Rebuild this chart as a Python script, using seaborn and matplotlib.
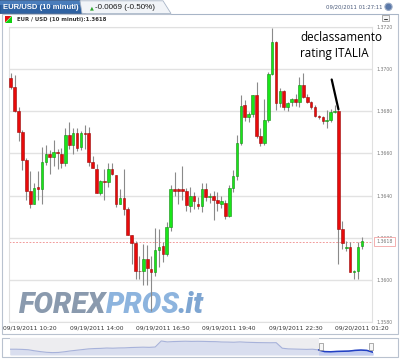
import numpy as np
import pandas as pd
import matplotlib
matplotlib.use("Agg")
import matplotlib.pyplot as plt
import matplotlib.transforms as mtransforms
from matplotlib.patches import Rectangle, Polygon, Circle
import seaborn as sns

# ---------------- data ----------------
opens = [1.36957, 1.36917, 1.36799, 1.36700, 1.36571, 1.36421, 1.36362, 1.36439, 1.36432, 1.36558,
         1.36599, 1.36581, 1.36607, 1.36599, 1.36555, 1.36689, 1.36641, 1.36697, 1.36629, 1.36697,
         1.36697, 1.36558, 1.36528, 1.36413, 1.36471, 1.36463, 1.36527, 1.36500, 1.36362, 1.36389,
         1.36334, 1.36211, 1.36173, 1.36042, 1.36042, 1.36098, 1.36050, 1.36035, 1.36142, 1.36160,
         1.36121, 1.36250, 1.36429, 1.36429, 1.36429, 1.36421, 1.36350, 1.36400, 1.36362, 1.36350,
         1.36429, 1.36392, 1.36400, 1.36378, 1.36362, 1.36367, 1.36302, 1.36437, 1.36492, 1.36650,
         1.36831, 1.36771, 1.36787, 1.36878, 1.36681, 1.36650, 1.36760, 1.36976, 1.37129, 1.36840,
         1.36894, 1.36820, 1.36842, 1.36858, 1.36842, 1.36925, 1.36870, 1.36842, 1.36820, 1.36779,
         1.36771, 1.36752, 1.36760, 1.36796, 1.36799, 1.36239, 1.36150, 1.36158, 1.36035, 1.36042,
         1.36160]
closes = [1.36917, 1.36799, 1.36700, 1.36571, 1.36421, 1.36362, 1.36438, 1.36432, 1.36558, 1.36599,
          1.36581, 1.36607, 1.36602, 1.36555, 1.36689, 1.36641, 1.36697, 1.36626, 1.36697, 1.36693,
          1.36558, 1.36531, 1.36413, 1.36468, 1.36463, 1.36527, 1.36503, 1.36362, 1.36389, 1.36334,
          1.36211, 1.36173, 1.36042, 1.36040, 1.36098, 1.36055, 1.36035, 1.36142, 1.36158, 1.36121,
          1.36250, 1.36429, 1.36421, 1.36421, 1.36421, 1.36353, 1.36400, 1.36373, 1.36350, 1.36429,
          1.36392, 1.36400, 1.36381, 1.36366, 1.36373, 1.36302, 1.36438, 1.36492, 1.36650, 1.36826,
          1.36771, 1.36787, 1.36878, 1.36681, 1.36650, 1.36760, 1.36976, 1.37129, 1.36840, 1.36897,
          1.36820, 1.36839, 1.36858, 1.36842, 1.36925, 1.36870, 1.36842, 1.36820, 1.36779, 1.36771,
          1.36752, 1.36760, 1.36796, 1.36802, 1.36243, 1.36177, 1.36158, 1.36035, 1.36042, 1.36158,
          1.36184]
highs = [1.36983, 1.36973, 1.36818, 1.36712, 1.36580, 1.36518, 1.36462, 1.36515, 1.36632, 1.36641,
         1.36618, 1.36662, 1.36623, 1.36627, 1.36722, 1.36750, 1.36722, 1.36722, 1.36708, 1.36736,
         1.36727, 1.36589, 1.36552, 1.36476, 1.36528, 1.36556, 1.36556, 1.36500, 1.36433, 1.36528,
         1.36348, 1.36211, 1.36184, 1.36113, 1.36169, 1.36164, 1.36113, 1.36244, 1.36239, 1.36178,
         1.36273, 1.36448, 1.36514, 1.36438, 1.36542, 1.36438, 1.36443, 1.36419, 1.36391, 1.36462,
         1.36462, 1.36414, 1.36421, 1.36419, 1.36400, 1.36381, 1.36452, 1.36523, 1.36689, 1.36878,
         1.36854, 1.36798, 1.36878, 1.36938, 1.36722, 1.36859, 1.36987, 1.37197, 1.37133, 1.36911,
         1.36902, 1.36845, 1.36864, 1.36883, 1.36962, 1.36981, 1.36883, 1.36850, 1.36831, 1.36783,
         1.36779, 1.36807, 1.36812, 1.36831, 1.36807, 1.36279, 1.36183, 1.36178, 1.36045, 1.36178,
         1.36202]
lows = [1.36905, 1.36798, 1.36660, 1.36523, 1.36381, 1.36343, 1.36358, 1.36381, 1.36362, 1.36547,
        1.36504, 1.36542, 1.36528, 1.36533, 1.36542, 1.36623, 1.36599, 1.36613, 1.36618, 1.36623,
        1.36542, 1.36531, 1.36413, 1.36405, 1.36381, 1.36443, 1.36500, 1.36348, 1.36358, 1.36310,
        1.36211, 1.36074, 1.36003, 1.36003, 1.35975, 1.35975, 1.35852, 1.36017, 1.36060, 1.36083,
        1.36112, 1.36230, 1.36396, 1.36358, 1.36381, 1.36325, 1.36320, 1.36334, 1.36334, 1.36320,
        1.36372, 1.36367, 1.36282, 1.36325, 1.36343, 1.36287, 1.36296, 1.36419, 1.36476, 1.36641,
        1.36752, 1.36750, 1.36774, 1.36673, 1.36633, 1.36641, 1.36750, 1.36973, 1.36804, 1.36821,
        1.36807, 1.36802, 1.36826, 1.36826, 1.36820, 1.36862, 1.36840, 1.36812, 1.36774, 1.36764,
        1.36741, 1.36720, 1.36750, 1.36791, 1.36074, 1.36145, 1.36135, 1.36035, 1.36003, 1.36003,
        1.36145]

tick_idx = [5, 22, 39, 56, 73, 90]
tick_labels = ["09/19/2011 10:20", "09/19/2011 14:00", "09/19/2011 16:50",
               "09/19/2011 19:40", "09/19/2011 22:30", "09/20/2011 01:20"]
y_ticks = [1.3580, 1.3600, 1.3620, 1.3640, 1.3660, 1.3680, 1.3700, 1.3720]
last_price = 1.3618
annot_idx = 84
annot_text = "declassamento\nrating ITALIA"

title_tab = "EUR/USD (10 minuti)"
change_text = "-0.0069 (-0.50%)"
timestamp = "09/20/2011 01:27:11"
legend_text = "EUR / USD (10 minuti):1.3618"

# navigator overview (relative level)
nav_level = [6.8, 6.8, 6.6, 6.2, 5.0, 4.0, 3.2, 2.8, 3.0, 3.8,
             4.8, 5.6, 6.4, 7.2, 7.6, 7.8, 8.2, 8.0, 8.3, 8.4,
             8.8, 9.0, 9.2, 9.0, 9.4, 16.5, 15.4, 15.8, 16.0, 16.2,
             16.0, 16.1, 16.0, 15.8, 15.7, 15.3, 15.2, 15.0, 15.4, 15.0,
             14.8, 14.6, 14.5, 14.4, 14.5, 8.0, 7.2, 7.0, 6.8, 6.6,
             6.8, 6.0, 4.0, 3.8, 4.2, 4.4, 4.6, 5.4, 5.8, 5.4, 3.2]
nav_sel_start = 51

# ---------------- style ----------------
sns.set_theme(style="white")
plt.rcParams['font.family'] = ['DejaVu Sans']

W, H = 400, 362
fig = plt.figure(figsize=(W / 100, H / 100), dpi=100)
fig.patch.set_facecolor("white")


def fr(x0, y0, x1, y1):
    return [x0 / W, 1 - y1 / H, (x1 - x0) / W, (y1 - y0) / H]


bg = fig.add_axes([0, 0, 1, 1], zorder=0)
bg.set_xlim(0, W)
bg.set_ylim(H, 0)
bg.axis("off")

narrow = ["Liberation Sans Narrow", "Liberation Sans", "DejaVu Sans"]

# header tabs
bg.add_patch(Polygon([(0, 13.5), (0, 0.5), (80, 0.5), (86, 13.5)], closed=True,
                     fc="#2f62a2", ec="#1f4a80", lw=0.5))
bg.add_patch(Rectangle((0, 0.5), 81, 4, fc="#4a7dbb", ec="none"))
bg.add_patch(Polygon([(82, 13.5), (80, 0.8), (163, 0.8), (171, 13.5)], closed=True,
                     fc="#f1f4f8", ec="#a8b5c7", lw=0.6))
bg.plot([171, 398], [13.5, 13.5], color="#a8b5c7", lw=0.7)
bg.text(3, 7.3, title_tab, color="white", fontsize=5.5, fontweight="bold",
        va="center", ha="left", family=narrow)
bg.text(89.5, 7.6, "▲", color="#2aa52a", fontsize=3.6, va="center", ha="left")
bg.text(95, 7.3, change_text, color="#1a1a1a", fontsize=5.8, va="center", ha="left", family=narrow)
bg.text(382, 7.3, timestamp, color="#4a5a7a", fontsize=3.9, va="center", ha="right")
bg.add_patch(Circle((388.5, 6.8), 3.6, fc="#5a78a8", ec="#9aaac4", lw=0.8))

# main panel
bg.add_patch(Rectangle((1.5, 13.5), 396, 320.5, fc="white", ec="#b9c2cf", lw=0.8))
bg.add_patch(Polygon([(5, 16), (11.5, 16), (5, 22.5)], closed=True, fc="#e01010", ec="none"))
bg.add_patch(Polygon([(11.5, 16), (11.5, 22.5), (5, 22.5)], closed=True, fc="#10d010", ec="none"))
bg.text(17, 19.2, legend_text, color="#333333", fontsize=3.9, fontweight="bold", va="center", ha="left")
bg.add_patch(Rectangle((382, 14.5), 7, 6.5, fc="#f4f4f4", ec="#8a8a8a", lw=0.5))
bg.plot([383.8, 387.2], [19, 19], color="#333333", lw=0.7)

# plot background
bg.add_patch(Rectangle((9, 27), 363, 295, fc="white", ec="none"))
# watermark
wm_font = ["Roboto", "Liberation Sans", "DejaVu Sans"]
bg.text(19, 313, "FOREX", color="#8a9aae", fontsize=21, fontweight="heavy", fontstyle="italic",
        va="baseline", ha="left", family=wm_font)
bg.text(106, 313, "PROS", color="#8db4de", fontsize=21, fontweight="heavy", fontstyle="italic",
        va="baseline", ha="left", family=wm_font)
bg.text(178, 313, ".it", color="#7fa6d2", fontsize=21, fontweight="heavy", fontstyle="italic",
        va="baseline", ha="left", family=wm_font)

# navigator panel
bg.add_patch(Rectangle((1.5, 337.5), 396, 19, fc="white", ec="#b9c2cf", lw=0.8))

# ---------------- main candlestick axes ----------------
df = pd.DataFrame({"idx": np.arange(len(opens)), "open": opens, "high": highs,
                   "low": lows, "close": closes})
df["up"] = df["close"] >= df["open"]
df["bottom"] = df[["open", "close"]].min(axis=1)
df["body"] = (df["close"] - df["open"]).abs().clip(lower=0.00003)

ax = fig.add_axes(fr(9, 27, 372, 322), zorder=2)
ax.set_facecolor("none")
ax.set_xlim(-0.44, 92.6)
ax.set_ylim(1.3580, 1.3720)

ax.set_yticks(y_ticks)
ax.grid(axis="y", color="#e2e2e2", lw=1.0)
ax.grid(axis="x", visible=False)
ax.set_axisbelow(True)

ax.vlines(df["idx"], df["low"], df["high"], color="#8a8a8a", lw=0.8, zorder=2)
ax.bar(df["idx"], df["body"], bottom=df["bottom"], width=0.68,
       color=np.where(df["up"], "#19e619", "#e80a0a"),
       edgecolor=np.where(df["up"], "#128a12", "#9a0a0a"), lw=0.4, zorder=3)

ax.axhline(last_price, color="#f08a8a", lw=0.6, ls=(0, (2.2, 1.8)), zorder=1)

ax.yaxis.tick_right()
ax.set_yticklabels([f"{v:.4f}" for v in y_ticks])
ax.tick_params(axis="y", labelsize=3.3, labelcolor="#777777", length=0, pad=3.5)
ax.set_xticks(tick_idx)
ax.set_xticklabels(tick_labels)
ax.tick_params(axis="x", labelsize=4.3, labelcolor="#333333", length=0, pad=2.2)
for s in ax.spines.values():
    s.set_color("#e0e0e0")
    s.set_linewidth(0.8)

trans = mtransforms.blended_transform_factory(ax.transAxes, ax.transData)
ax.text(1.012, last_price, f"{last_price:.4f}", transform=trans, fontsize=3.3, color="#777777",
        va="center", ha="left", zorder=6, clip_on=False,
        bbox=dict(boxstyle="square,pad=0.45", fc="white", ec="#f2a4a4", lw=0.6))

# annotation
fg = fig.add_axes([0, 0, 1, 1], zorder=5)
fg.set_xlim(0, W)
fg.set_ylim(H, 0)
fg.axis("off")
fg.set_facecolor("none")
fg.text(300, 57, annot_text, fontsize=8.4, color="black", va="baseline", ha="left",
        linespacing=1.3, family=["Open Sans", "DejaVu Sans"])
ax.annotate("", xy=(annot_idx, highs[annot_idx] + 0.00002), xycoords="data",
            xytext=(331.7, 79.5), textcoords=fg.transData,
            arrowprops=dict(arrowstyle="-", color="black", lw=1.6, shrinkA=0, shrinkB=0))

# ---------------- navigator ----------------
nav = fig.add_axes(fr(10, 338, 373, 355), zorder=2)
nav.set_facecolor("none")
nav_x = np.arange(len(nav_level))
nav.axvspan(0, nav_sel_start, color="#ededf0", zorder=0, lw=0)
nav.fill_between(nav_x, nav_level, 0, color="#d9deef", zorder=1, lw=0)
sns.lineplot(x=nav_x, y=nav_level, ax=nav, color="#a7b2da", lw=0.8, zorder=2)
sel_x = nav_x[nav_sel_start:]
sel_y = nav_level[nav_sel_start:]
nav.fill_between(sel_x, sel_y, 0, color="#c3cdf0", zorder=1, lw=0)
sns.lineplot(x=sel_x, y=sel_y, ax=nav, color="#2140c4", lw=1.1, zorder=3)
nav.set_xlim(0, len(nav_level) - 1)
nav.set_ylim(0, 20)
nav.axis("off")
for hx in (319.3, 369.3):
    fg.add_patch(Rectangle((hx, 342.5), 4, 7.5, fc="#f6f6f6", ec="#8a8a8a", lw=0.5))

fig.savefig("out.png", dpi=100, facecolor="white")
